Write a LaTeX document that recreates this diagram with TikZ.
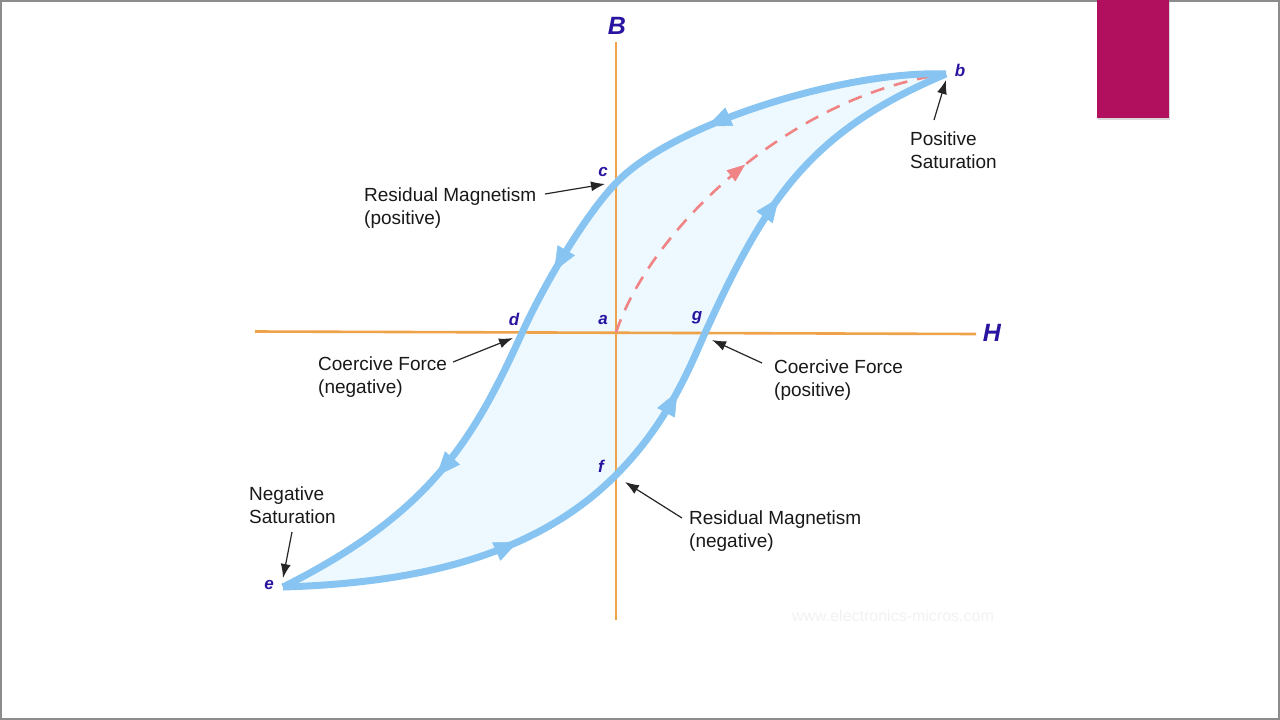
\documentclass[tikz,border=0pt]{standalone}
\usepackage{fontspec}
\setmainfont{Liberation Sans}
\usetikzlibrary{arrows.meta,decorations.markings}
\definecolor{loopblue}{RGB}{135,196,242}
\definecolor{loopfill}{RGB}{237,249,254}
\definecolor{axisorange}{RGB}{238,162,74}
\definecolor{labelblue}{RGB}{40,20,160}
\definecolor{dashred}{RGB}{240,132,132}
\definecolor{barmagenta}{RGB}{176,16,94}
\definecolor{framegray}{RGB}{140,140,140}
\tikzset{
  loopline/.style={draw=loopblue, line width=7pt, line join=round},
  axisline/.style={draw=axisorange, line width=2.6pt},
  ptlabel/.style={font=\fontsize{17}{17}\selectfont\bfseries\itshape, text=labelblue, inner sep=0pt},
  axlabel/.style={font=\fontsize{25}{25}\selectfont\bfseries\itshape, text=labelblue, inner sep=0pt},
  note/.style={font=\fontsize{19}{23}\selectfont, align=left, anchor=north west, inner sep=0pt, text=black!90},
  pointer/.style={-{Latex[length=14pt,width=10pt]}, line width=1.2pt, draw=black!85},
  bluetip/.style={loopblue, line width=0.5pt},
  upperarrows/.style={postaction={decorate},
    decoration={markings,
      mark=at position 246pt with {\arrow[bluetip]{Triangle[length=24pt,width=20pt]}},
      mark=at position 462pt with {\arrow[bluetip]{Triangle[length=24pt,width=20pt]}},
      mark=at position 699pt with {\arrow[bluetip]{Triangle[length=24pt,width=20pt]}}}},
  lowerarrows/.style={postaction={decorate},
    decoration={markings,
      mark=at position 241pt with {\arrow[bluetip]{Triangle[length=24pt,width=20pt]}},
      mark=at position 464pt with {\arrow[bluetip]{Triangle[length=24pt,width=20pt]}},
      mark=at position 683pt with {\arrow[bluetip]{Triangle[length=24pt,width=20pt]}}}},
  dasharrow/.style={postaction={decorate},
    decoration={markings, mark=at position #1 with {\arrow[dashred, line width=0.5pt]{Triangle[length=18pt,width=14pt]}}}},
}
\begin{document}
\begin{tikzpicture}[x=1pt,y=-1pt]
\useasboundingbox (0,0) rectangle (1280,720);
\fill[white] (0,0) rectangle (1280,720);
\draw[framegray, line width=2pt] (1,1) rectangle (1279,719);
% magenta bar
\fill[black!15] (1098,2) rectangle (1170,120);
\fill[barmagenta] (1097,0) rectangle (1169,118);

% key points
\coordinate (a) at (616,332.5);
\coordinate (b) at (946,74);
\coordinate (c) at (616,183);
\coordinate (d) at (522,333);
\coordinate (e) at (283,587);
\coordinate (f) at (615,476);
\coordinate (g) at (705,333);

% loop fill
\fill[loopfill] (b) .. controls (850,70) and (674,122) .. (c)
  .. controls (584,216.6) and (543.3,286) .. (d)
  .. controls (474,439) and (431,513) .. (e)
  .. controls (399,583.5) and (528,563) .. (f)
  .. controls (669.4,421.6) and (690.6,364.7) .. (g)
  .. controls (765.6,199.7) and (809.4,131.4) .. (b) -- cycle;

% axes
\coordinate (hl) at (255,331.5);
\coordinate (hr) at (976,334);
\coordinate (vt) at (616,42);
\coordinate (vb) at (616,620);
\draw[axisline] (hl) -- (hr);
\draw[axisline] (vt) -- (vb);

% initial magnetisation curve
\draw[dashred, line width=2.6pt, dash pattern=on 14pt off 10pt, dasharrow=0.49]
  (a) .. controls (650,230) and (790,95) .. (b);

% hysteresis loop
\draw[loopline, upperarrows] (b) .. controls (850,70) and (674,122) .. (c)
  .. controls (584,216.6) and (543.3,286) .. (d)
  .. controls (474,439) and (431,513) .. (e);
\draw[loopline, lowerarrows] (e) .. controls (399,583.5) and (528,563) .. (f)
  .. controls (669.4,421.6) and (690.6,364.7) .. (g)
  .. controls (765.6,199.7) and (809.4,131.4) .. (b);

% axis labels
\node[axlabel] (Blab) at (617,26) {B};
\node[axlabel] (Hlab) at (992,333) {H};

% point labels
\node[ptlabel] (lb) at (960,70) {b};
\node[ptlabel] (lc) at (603,172) {c};
\node[ptlabel] (ld) at (514,319) {d};
\node[ptlabel] (la) at (603,320) {a};
\node[ptlabel] (lg) at (697,318) {g};
\node[ptlabel] (lf) at (601,466) {f};
\node[ptlabel] (le) at (269,585) {e};

% notes
\node[note] (nps) at (910,132) {Positive\\Saturation};
\node[note] (nrp) at (364,188) {Residual Magnetism\\(positive)};
\node[note] (ncn) at (318,357) {Coercive Force\\(negative)};
\node[note] (ncp) at (774,360) {Coercive Force\\(positive)};
\node[note] (nrn) at (689,511) {Residual Magnetism\\(negative)};
\node[note] (nns) at (249,487) {Negative\\Saturation};

% pointer arrows
\coordinate (ps0) at (934,120); \coordinate (ps1) at (946,80);
\coordinate (rp0) at (545,194); \coordinate (rp1) at (605,184);
\coordinate (cn0) at (453,362); \coordinate (cn1) at (513,338);
\coordinate (cp0) at (762,363); \coordinate (cp1) at (712,340);
\coordinate (rn0) at (682,518); \coordinate (rn1) at (625,482);
\coordinate (ns0) at (292,532); \coordinate (ns1) at (283,578);
\draw[pointer] (ps0) -- (ps1);
\draw[pointer] (rp0) -- (rp1);
\draw[pointer] (cn0) -- (cn1);
\draw[pointer] (cp0) -- (cp1);
\draw[pointer] (rn0) -- (rn1);
\draw[pointer] (ns0) -- (ns1);

% watermark
\node[font=\fontsize{16}{16}\selectfont, text=black!5, inner sep=0pt] (wm) at (893,616) {www.electronics-micros.com};
\end{tikzpicture}
\end{document}
